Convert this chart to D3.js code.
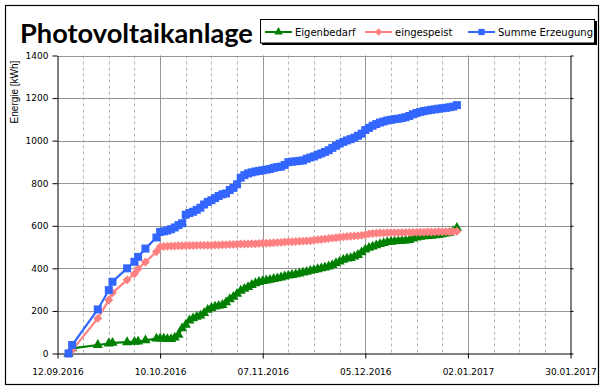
<!DOCTYPE html>
<html>
<head>
<meta charset="utf-8">
<script src="https://cdn.jsdelivr.net/npm/d3@7"></script>
<style>
  body { margin: 0; background: #fff; }
  svg { display: block; }
</style>
</head>
<body>
<svg id="chart"></svg>
<script>
// Ablesedaten (kumuliert, kWh)
const dates = [
    "15.09.2016", "16.09.2016", "23.09.2016", "26.09.2016", "27.09.2016", "01.10.2016",
    "03.10.2016", "04.10.2016", "06.10.2016", "09.10.2016", "10.10.2016",
    "11.10.2016", "12.10.2016", "13.10.2016", "14.10.2016", "15.10.2016", "16.10.2016", "17.10.2016",
    "18.10.2016", "19.10.2016", "20.10.2016", "21.10.2016", "22.10.2016", "23.10.2016", "24.10.2016",
    "25.10.2016", "26.10.2016", "27.10.2016", "28.10.2016", "29.10.2016", "30.10.2016", "31.10.2016",
    "01.11.2016", "02.11.2016", "03.11.2016", "04.11.2016", "05.11.2016", "06.11.2016", "07.11.2016",
    "08.11.2016", "09.11.2016", "10.11.2016", "11.11.2016", "12.11.2016", "13.11.2016", "14.11.2016",
    "15.11.2016", "16.11.2016", "17.11.2016", "18.11.2016", "19.11.2016", "20.11.2016", "21.11.2016",
    "22.11.2016", "23.11.2016", "24.11.2016", "25.11.2016", "26.11.2016", "27.11.2016", "28.11.2016",
    "29.11.2016", "30.11.2016",
    "01.12.2016", "02.12.2016", "03.12.2016", "04.12.2016", "05.12.2016", "06.12.2016", "07.12.2016",
    "08.12.2016", "09.12.2016", "10.12.2016", "11.12.2016", "12.12.2016", "13.12.2016", "14.12.2016",
    "15.12.2016", "16.12.2016", "17.12.2016", "18.12.2016", "19.12.2016", "20.12.2016", "21.12.2016",
    "22.12.2016", "23.12.2016", "24.12.2016", "25.12.2016", "26.12.2016", "27.12.2016", "28.12.2016",
    "29.12.2016", "30.12.2016"
];

const eigenbedarf = [
    0, 24, 40, 47, 50, 53, 55, 56, 62, 70, 70,
    70, 68, 68, 75, 88, 118, 135, 155, 165, 172, 178, 190, 205, 214, 220, 224, 228, 240, 255, 266, 280,
    295, 304, 312, 322, 330, 336, 340, 343, 346, 350, 353, 357, 362, 366, 369,
    372, 376, 380, 384, 388, 392, 396, 400, 404, 409, 415, 424, 432, 440, 446,
    448, 455, 463, 475, 488, 496, 502, 508, 514, 519, 523, 525, 527, 528, 530,
    531, 533, 540, 545, 548, 550, 552, 553, 555, 557, 560, 563, 567, 575, 590
];

const eingespeist = [
    0, 16, 165, 251, 285, 346, 375, 398, 430, 478, 501,
    503, 504, 505, 505, 506, 506, 507, 507, 507, 508, 508, 508, 509, 509, 510, 510, 511, 511, 512, 512, 513,
    514, 514, 515, 516, 516, 517, 518, 518, 519, 520, 521, 522, 524, 525, 525,
    526, 527, 528, 529, 530, 532, 534, 536, 538, 540, 542, 544, 546, 548, 550,
    551, 552, 553, 555, 558, 562, 564, 565, 566, 566, 567, 567, 568, 568, 568,
    569, 569, 569, 570, 570, 570, 571, 571, 571, 572, 572, 572, 572, 573, 574
];

const summe = [
    0, 40, 207, 298, 337, 400, 431, 454, 493, 545, 571,
    574, 578, 584, 592, 603, 612, 652, 660, 666, 675, 685, 700, 712, 720, 730, 740, 748, 752, 768, 778, 795,
    826, 838, 846, 851, 855, 858, 861, 864, 867, 872, 876, 878, 886, 899, 901,
    903, 905, 907, 915, 921, 926, 934, 940, 947, 955, 966, 976, 986, 994, 1001,
    1007, 1014, 1023, 1033, 1050, 1060, 1070, 1078, 1085, 1090, 1095, 1098, 1101, 1103, 1106,
    1110, 1116, 1124, 1130, 1135, 1139, 1142, 1145, 1147, 1150, 1152, 1154, 1157, 1160, 1167
];

const yTicks = [0, 200, 400, 600, 800, 1000, 1200, 1400];
const xTickLabels = ["12.09.2016", "10.10.2016", "07.11.2016", "05.12.2016", "02.01.2017", "30.01.2017"];

const seriesNames = ["Eigenbedarf", "eingespeist", "Summe Erzeugung"];

// Layout
const width = 605, height = 391;
const plot = { left: 57.5, right: 570.5, top: 55.5, bottom: 353.5 };
const tickFont = "'DejaVu Sans', Verdana, sans-serif";

const parseDate = d3.utcParse("%d.%m.%Y");
const fmtDate = d3.utcFormat("%d.%m.%Y");
const xDates = dates.map(parseDate);
const majorDates = xTickLabels.map(parseDate);

const svg = d3.select("#chart")
    .attr("width", width)
    .attr("height", height);

svg.append("rect")
    .attr("width", width).attr("height", height)
    .attr("fill", "#fff");

// Rahmen
svg.append("rect")
    .attr("x", 5.5).attr("y", 5.5)
    .attr("width", 593).attr("height", 379)
    .attr("fill", "none")
    .attr("stroke", "#000")
    .attr("stroke-width", 1.2);

const x = d3.scaleUtc()
    .domain([majorDates[0], majorDates[majorDates.length - 1]])
    .range([plot.left, plot.right]);

const y = d3.scaleLinear()
    .domain([0, 1400])
    .range([plot.bottom, plot.top]);

// Gitternetz: Wochen gestrichelt
const minorDates = d3.utcDay.range(majorDates[0], majorDates[majorDates.length - 1], 7)
    .filter(d => !majorDates.some(m => +m === +d));

svg.append("g").selectAll("line")
    .data(minorDates)
    .join("line")
    .attr("x1", d => Math.round(x(d)) + 0.5)
    .attr("x2", d => Math.round(x(d)) + 0.5)
    .attr("y1", plot.top).attr("y2", plot.bottom)
    .attr("stroke", "#b4b4b4")
    .attr("stroke-dasharray", "3,3");

svg.append("g").selectAll("line")
    .data(majorDates.slice(1, -1))
    .join("line")
    .attr("x1", d => Math.round(x(d)) + 0.5)
    .attr("x2", d => Math.round(x(d)) + 0.5)
    .attr("y1", plot.top).attr("y2", plot.bottom)
    .attr("stroke", "#969696");

svg.append("g").selectAll("line")
    .data(yTicks.slice(1))
    .join("line")
    .attr("x1", plot.left).attr("x2", plot.right)
    .attr("y1", d => Math.round(y(d)) + 0.5)
    .attr("y2", d => Math.round(y(d)) + 0.5)
    .attr("stroke", "#969696");

// Achsen
const yAxis = svg.append("g")
    .attr("transform", `translate(${plot.left},0)`)
    .call(d3.axisLeft(y).tickValues(yTicks).tickFormat(d3.format("d"))
        .tickSize(5).tickSizeOuter(0).tickPadding(4));

const yAxisRight = svg.append("g")
    .attr("transform", `translate(${plot.right},0)`)
    .call(d3.axisRight(y).tickValues(yTicks).tickSize(3).tickSizeOuter(0).tickFormat(""));

const xAxis = svg.append("g")
    .attr("transform", `translate(0,${plot.bottom})`)
    .call(d3.axisBottom(x).tickValues(majorDates).tickFormat(fmtDate)
        .tickSize(5).tickSizeOuter(0).tickPadding(10));

[yAxis, yAxisRight, xAxis].forEach(g => {
    g.selectAll("path, line").attr("stroke", "#000");
    g.selectAll("text")
        .attr("fill", "#000")
        .style("font-family", tickFont)
        .style("font-size", "9px");
});

svg.append("text")
    .attr("transform", "translate(18,92) rotate(-90)")
    .attr("text-anchor", "middle")
    .style("font-family", "'Liberation Sans', Arial, sans-serif")
    .style("font-size", "10px")
    .text("Energie [kWh]");

// Titel, Breite an Vorlage angepasst
const title = svg.append("text")
    .attr("x", 20).attr("y", 43)
    .style("font-family", "Lato, 'Open Sans', sans-serif")
    .style("font-weight", "bold")
    .style("font-size", "100px")
    .text("Photovoltaikanlage");
const titleLen = title.node().getComputedTextLength();
title.style("font-size", (100 * 233 / titleLen) + "px");

// Reihen
const colors = ["#008000", "#ff8080", "#3366ff"];
const values = [eigenbedarf, eingespeist, summe];
const symbols = [
    d3.symbol().type(d3.symbolTriangle).size(45),
    d3.symbol().type(d3.symbolSquare).size(40),
    d3.symbol().type(d3.symbolSquare).size(64)
];
const rotations = [0, 45, 0];

const line = d3.line()
    .x(d => x(d.date))
    .y(d => y(d.value));

values.forEach((vals, i) => {
    const pts = vals.map((v, j) => ({ date: xDates[j], value: v }));
    const g = svg.append("g");

    g.append("path")
        .datum(pts)
        .attr("fill", "none")
        .attr("stroke", colors[i])
        .attr("stroke-width", 2.2)
        .attr("d", line);

    g.selectAll("path.marker")
        .data(pts)
        .join("path")
        .attr("class", "marker")
        .attr("transform", d => `translate(${x(d.date)},${y(d.value)}) rotate(${rotations[i]})`)
        .attr("d", symbols[i])
        .attr("fill", colors[i]);
});

// Legende
const legend = svg.append("g");
legend.append("rect")
    .attr("x", 262).attr("y", 21)
    .attr("width", 335).attr("height", 24)
    .attr("fill", "#000");
legend.append("rect")
    .attr("x", 260.5).attr("y", 19.5)
    .attr("width", 334).attr("height", 23.5)
    .attr("fill", "#fff")
    .attr("stroke", "#000");

const legendX = [265, 365, 468];
const legendSymbols = [
    d3.symbol().type(d3.symbolTriangle).size(32),
    d3.symbol().type(d3.symbolSquare).size(28),
    d3.symbol().type(d3.symbolSquare).size(40)
];
const legendItems = legend.selectAll("g.item")
    .data(seriesNames)
    .join("g")
    .attr("class", "item")
    .attr("transform", (d, i) => `translate(${legendX[i]},32)`);

legendItems.append("line")
    .attr("x1", 0).attr("x2", 27)
    .attr("stroke", (d, i) => colors[i])
    .attr("stroke-width", 2);

legendItems.append("path")
    .attr("transform", (d, i) => `translate(13.5,0) rotate(${rotations[i]})`)
    .attr("d", (d, i) => legendSymbols[i]())
    .attr("fill", (d, i) => colors[i]);

legendItems.append("text")
    .attr("x", 30)
    .attr("y", 4)
    .style("font-family", tickFont)
    .style("font-size", "10px")
    .text(d => d);
</script>
</body>
</html>
